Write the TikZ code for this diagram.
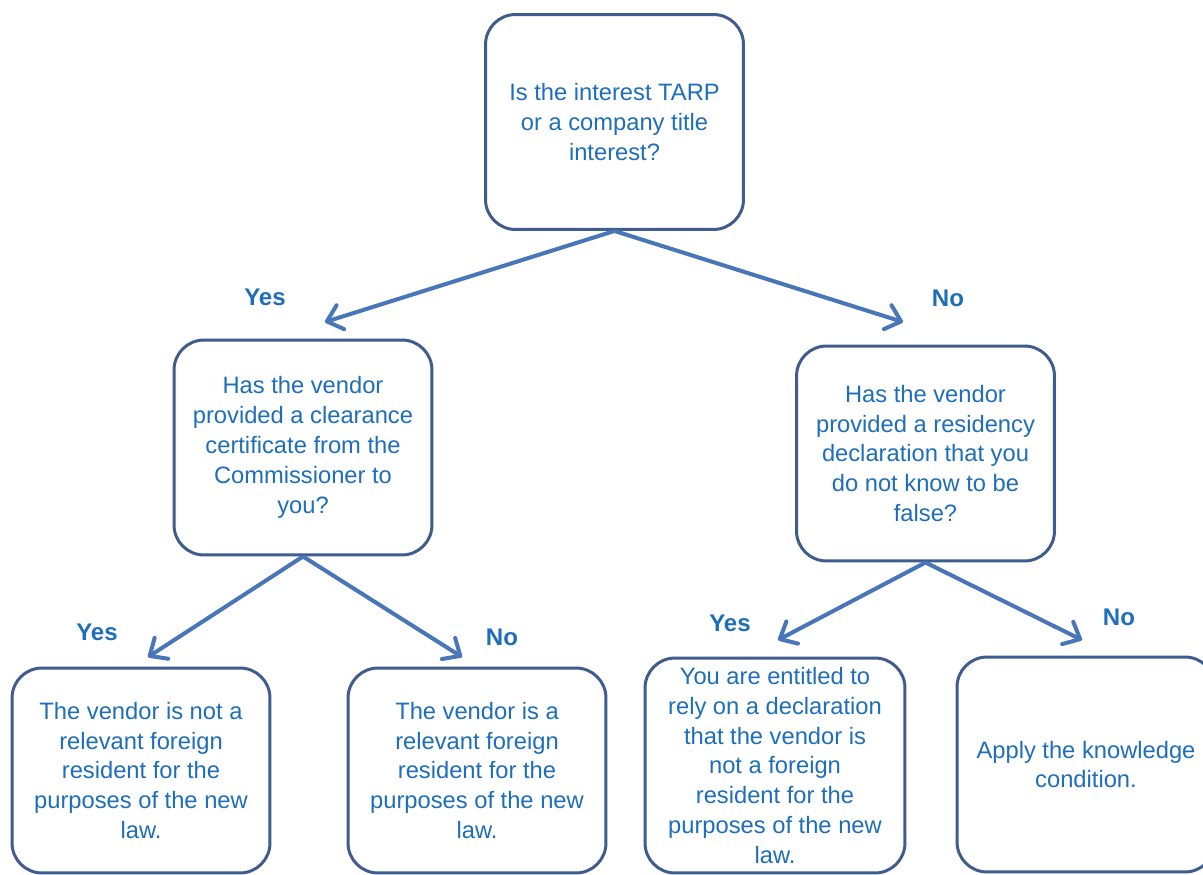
\documentclass[tikz,border=0pt]{standalone}
\usepackage{fontspec}
\setmainfont{Liberation Sans}
\usetikzlibrary{arrows.meta,positioning}
\definecolor{txtblue}{RGB}{30,110,185}
\definecolor{boxline}{RGB}{62,92,140}
\definecolor{arrblue}{RGB}{72,118,185}
\tikzset{
  qbox/.style={draw=boxline,line width=1.7pt,rounded corners=0.6cm,fill=white,
    text=txtblue,align=center,inner sep=2pt,
    font=\fontsize{13.5}{17}\selectfont,minimum width=5.16cm,minimum height=4.3cm},
  lowbox/.style={qbox,minimum height=4.1cm},
  flow/.style={draw=arrblue,line width=2.3pt,-{Straight Barb[length=0.28cm,width=0.5cm,round]}},
  answer/.style={text=txtblue,font=\fontsize{13.7}{16}\selectfont\bfseries}
}
\begin{document}
\begin{tikzpicture}[x=0.02cm,y=-0.02cm]
\useasboundingbox (0,0) rectangle (1203,875);
% questions
\node[qbox] (tarp) at (614.5,122) {Is the interest TARP\\or a company title\\interest?};
\node[qbox] (clear) at (303,447.5) {Has the vendor\\provided a clearance\\certificate from the\\Commissioner to\\you?};
\node[qbox] (resid) at (925.5,453.5) {Has the vendor\\provided a residency\\declaration that you\\do not know to be\\false?};
% outcomes
\node[lowbox] (notfr) at (141,770.5) {The vendor is not a\\relevant foreign\\resident for the\\purposes of the new\\law.};
\node[lowbox] (isfr) at (477,770.5) {The vendor is a\\relevant foreign\\resident for the\\purposes of the new\\law.};
\node[qbox,minimum width=5.2cm] (rely) at (775,765.5) {You are entitled to\\rely on a declaration\\that the vendor is\\not a foreign\\resident for the\\purposes of the new\\law.};
\node[qbox] (know) at (1086,764.5) {Apply the knowledge\\condition.};
% arrow tips
\coordinate (tarpY) at (325,322);
\coordinate (tarpN) at (903,322);
\coordinate (clearY) at (148,657);
\coordinate (clearN) at (462,657);
\coordinate (residY) at (778,640);
\coordinate (residN) at (1082,640);
\draw[flow] (tarp.south) -- (tarpY);
\draw[flow] (tarp.south) -- (tarpN);
\draw[flow] (clear.south) -- (clearY);
\draw[flow] (clear.south) -- (clearN);
\draw[flow] (resid.south) -- (residY);
\draw[flow] (resid.south) -- (residN);
% answers
\node[answer] (l1) at (265,297) {Yes};
\node[answer] (l2) at (948,298) {No};
\node[answer] (l3) at (97,632) {Yes};
\node[answer] (l4) at (502,637) {No};
\node[answer] (l5) at (730,623) {Yes};
\node[answer] (l6) at (1119,617) {No};
\end{tikzpicture}
\end{document}
